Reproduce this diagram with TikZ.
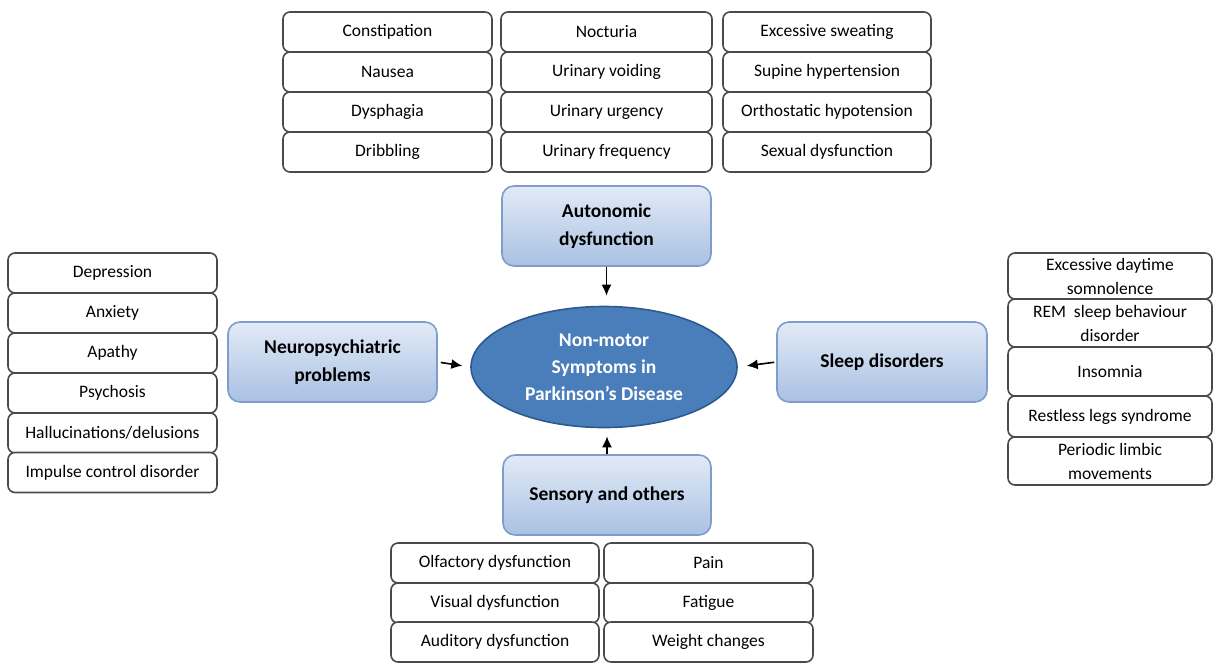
\documentclass[tikz,border=0pt]{standalone}
\usepackage{fontspec}
\setmainfont{Carlito}
\usetikzlibrary{shapes.geometric,arrows.meta}
\definecolor{itemline}{HTML}{4A4A4A}
\definecolor{cattop}{HTML}{E2EAF6}
\definecolor{catbot}{HTML}{A9C1E3}
\definecolor{catline}{HTML}{7F9DCB}
\definecolor{nmsfill}{HTML}{4A7EBB}
\definecolor{nmsline}{HTML}{2D5A8E}
\begin{document}
\begin{tikzpicture}[x=1pt,y=-1pt,
	item/.style={draw=itemline, line width=1.6pt, rounded corners=7pt, fill=white,
		minimum width=209pt, minimum height=40pt, inner sep=0pt, align=center,
		font=\fontsize{17.5}{19}\selectfont, text=black},
	tallitem/.style={item, font=\fontsize{17.5}{24}\selectfont},
	cat/.style={draw=catline, line width=1.6pt, rounded corners=12pt,
		top color=cattop, bottom color=catbot,
		minimum width=209pt, minimum height=80pt, inner sep=0pt, align=center,
		font=\fontsize{19.5}{28}\selectfont\bfseries},
	nms/.style={ellipse, draw=nmsline, line width=1.6pt, fill=nmsfill, text=white,
		minimum width=266pt, minimum height=121pt, inner sep=0pt, align=center,
		font=\fontsize{19.5}{27}\selectfont\bfseries},
	arr/.style={-{Latex[length=11pt,width=10pt]}, line width=1.6pt, black}]
	\useasboundingbox (0,0) rectangle (1214,662);
	% autonomic lists
	\node[item] (a1) at (387.5,32) {Constipation};
	\node[item] (a2) at (387.5,72) {Nausea};
	\node[item] (a3) at (387.5,112) {Dysphagia};
	\node[item] (a4) at (387.5,152) {Dribbling};
	\node[item, minimum width=211pt] (u1) at (606.5,32) {Nocturia};
	\node[item, minimum width=211pt] (u2) at (606.5,72) {Urinary voiding};
	\node[item, minimum width=211pt] (u3) at (606.5,112) {Urinary urgency};
	\node[item, minimum width=211pt] (u4) at (606.5,152) {Urinary frequency};
	\node[item, minimum width=208pt] (c1) at (827,32) {Excessive sweating};
	\node[item, minimum width=208pt] (c2) at (827,72) {Supine hypertension};
	\node[item, minimum width=208pt] (c3) at (827,112) {Orthostatic hypotension};
	\node[item, minimum width=208pt] (c4) at (827,152) {Sexual dysfunction};
	% neuropsychiatric list
	\node[item] (n1) at (112.5,273) {Depression};
	\node[item] (n2) at (112.5,313) {Anxiety};
	\node[item] (n3) at (112.5,353) {Apathy};
	\node[item] (n4) at (112.5,393) {Psychosis};
	\node[item] (n5) at (112.5,433) {Hallucinations/delusions};
	\node[item] (n6) at (112.5,472.5) {Impulse control disorder};
	% sleep list
	\node[tallitem, minimum width=204pt, minimum height=46pt] (s1) at (1110,276) {Excessive daytime\\somnolence};
	\node[tallitem, minimum width=204pt, minimum height=48pt] (s2) at (1110,323) {REM~ sleep behaviour\\disorder};
	\node[tallitem, minimum width=204pt, minimum height=49pt] (s3) at (1110,371.5) {Insomnia};
	\node[tallitem, minimum width=204pt, minimum height=41pt] (s4) at (1110,416.5) {Restless legs syndrome};
	\node[tallitem, minimum width=204pt, minimum height=48pt] (s5) at (1110,461) {Periodic limbic\\movements};
	% sensory lists
	\node[item, minimum width=208pt] (o1) at (495,563) {Olfactory dysfunction};
	\node[item, minimum width=208pt] (o2) at (495,603) {Visual dysfunction};
	\node[item, minimum width=208pt] (o3) at (495,642) {Auditory dysfunction};
	\node[item] (p1) at (708.5,563) {Pain};
	\node[item] (p2) at (708.5,603) {Fatigue};
	\node[item] (p3) at (708.5,642) {Weight changes};
	% categories and centre
	\node[cat] (aut) at (606.5,226) {Autonomic\\dysfunction};
	\node[cat] (neu) at (332.5,362) {Neuropsychiatric\\problems};
	\node[cat, minimum width=210pt] (slp) at (882,362) {Sleep disorders};
	\node[cat, minimum width=208pt] (sen) at (607,495) {Sensory and others};
	\node[nms] (nms) at (604,367) {Non-motor\\Symptoms in\\Parkinson’s Disease};
	\draw[arr, shorten >=10pt] (aut.south) -- (aut.south |- nms.north);
	\draw[arr, shorten <=3pt, shorten >=8pt] (neu.east) -- (nms.west);
	\draw[arr, shorten <=2pt, shorten >=9pt] (slp.west) -- (nms.east);
	\draw[arr, shorten >=8pt] (sen.north) -- (sen.north |- nms.south);
\end{tikzpicture}
\end{document}
